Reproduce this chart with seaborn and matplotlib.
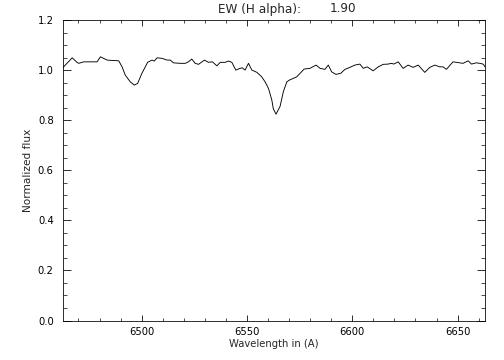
import numpy as np
import pandas as pd
import seaborn as sns
import matplotlib
matplotlib.use("Agg")
import matplotlib.pyplot as plt
from matplotlib.ticker import MultipleLocator

# spectrum around H alpha
wavelength = [6462.5, 6467.0, 6469.3, 6470.1, 6472.5, 6477.2, 6478.8, 6480.4, 6481.9, 6483.6,
              6489.1, 6490.7, 6492.2, 6494.6, 6496.5, 6498.1, 6500.1, 6502.8, 6504.9, 6506.0,
              6507.3, 6509.6, 6512.0, 6513.6, 6515.1, 6518.3, 6520.7, 6522.2, 6523.8, 6525.4,
              6527.0, 6529.8, 6531.7, 6533.6, 6535.7, 6537.3, 6539.6, 6541.2, 6542.8, 6544.7,
              6546.7, 6547.8, 6549.1, 6550.7, 6552.3, 6554.7, 6557.0, 6558.6, 6560.2, 6561.8,
              6562.5, 6563.8, 6565.7, 6567.3, 6568.9, 6570.1, 6572.0, 6573.6, 6575.2, 6577.1,
              6579.9, 6582.8, 6584.7, 6587.0, 6588.6, 6590.2, 6592.2, 6594.5, 6596.5, 6598.9,
              6601.2, 6603.6, 6605.2, 6607.1, 6609.9, 6612.3, 6614.7, 6617.0, 6618.6, 6619.7,
              6621.8, 6624.1, 6626.5, 6628.9, 6631.3, 6634.4, 6636.8, 6639.2, 6641.5, 6643.1,
              6644.7, 6647.8, 6651.0, 6652.6, 6655.0, 6656.6, 6658.9, 6660.5, 6662.1, 6663.2]
flux = [1.009, 1.049, 1.031, 1.027, 1.033, 1.033, 1.033, 1.053, 1.047, 1.040,
        1.037, 1.013, 0.980, 0.953, 0.940, 0.947, 0.987, 1.031, 1.040, 1.036,
        1.049, 1.047, 1.040, 1.040, 1.029, 1.027, 1.027, 1.033, 1.044, 1.027,
        1.023, 1.040, 1.031, 1.033, 1.017, 1.031, 1.031, 1.036, 1.031, 1.000,
        1.007, 1.009, 1.000, 1.027, 1.000, 0.991, 0.973, 0.953, 0.927, 0.880,
        0.845, 0.824, 0.855, 0.915, 0.953, 0.960, 0.967, 0.973, 0.987, 1.004,
        1.007, 1.020, 1.007, 1.003, 1.020, 0.993, 0.983, 0.987, 1.003, 1.011,
        1.020, 1.024, 1.007, 1.013, 0.997, 1.013, 1.023, 1.024, 1.027, 1.024,
        1.033, 1.007, 1.020, 1.011, 1.020, 0.991, 1.011, 1.020, 1.013, 1.013,
        1.003, 1.033, 1.029, 1.027, 1.037, 1.024, 1.029, 1.027, 1.024, 1.011]
ew_halpha = 1.90

df = pd.DataFrame({"wavelength": wavelength, "flux": flux})

sns.set_style("white")
plt.rcParams["font.family"] = ["DejaVu Sans"]

fig = plt.figure(figsize=(7, 5), dpi=72)
ax = fig.add_axes([0.1244, 0.1097, 0.8379, 0.8347])
sns.lineplot(data=df, x="wavelength", y="flux", ax=ax, color="black",
             linewidth=0.9, estimator=None, sort=False)

ax.set_xlim(6462.5, 6663)
ax.set_ylim(0.0, 1.2)
ax.xaxis.set_major_locator(MultipleLocator(50))
ax.xaxis.set_minor_locator(MultipleLocator(10))
ax.yaxis.set_major_locator(MultipleLocator(0.2))
ax.yaxis.set_minor_locator(MultipleLocator(0.05))
ax.yaxis.set_major_formatter(matplotlib.ticker.FormatStrFormatter("%.1f"))

ax.tick_params(axis="x", which="major", direction="in", length=6, width=0.8,
               top=True, bottom=True, labelsize=10, pad=6, colors="black")
ax.tick_params(axis="x", which="minor", direction="in", length=3, width=0.8,
               top=True, bottom=True)
ax.tick_params(axis="y", which="major", direction="in", length=8.4, width=0.8,
               left=True, right=True, labelsize=10, pad=9, colors="black")
ax.tick_params(axis="y", which="minor", direction="in", length=4.2, width=0.8,
               left=True, right=True)
for s in ax.spines.values():
    s.set_color("black")
    s.set_linewidth(0.8)

ax.set_xlabel("Wavelength in (A)", fontsize=10, labelpad=2)
ax.set_ylabel("Normalized flux", fontsize=10.5, labelpad=5)
# title in two pieces, as the IDL output pads the number
fig.text(218 / 504, 0.975, "EW (H alpha):", ha="left", va="center", fontsize=12)
fig.text(356 / 504, 0.975, "%.2f" % ew_halpha, ha="right", va="center", fontsize=12)

fig.savefig("out.png", dpi=72, facecolor="white")
